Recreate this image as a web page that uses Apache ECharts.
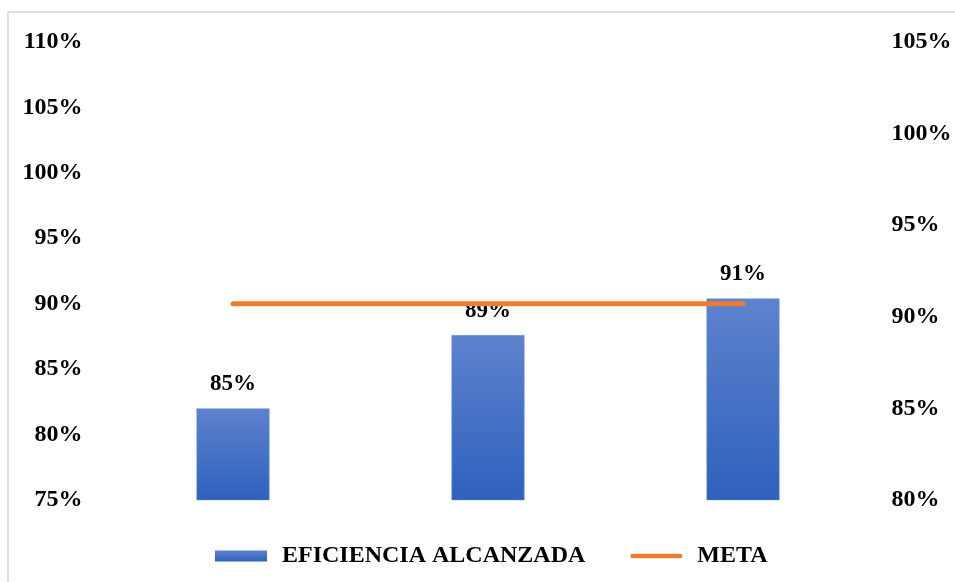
<!DOCTYPE html>
<html>
<head>
<meta charset="utf-8">
<script src="https://cdn.jsdelivr.net/npm/echarts@6/dist/echarts.min.js"></script>
<style>
html,body{margin:0;padding:0;background:#fff;}
#chart{width:955px;height:582px;}
</style>
</head>
<body>
<div id="chart"></div>
<script>
const categories = ['1', '2', '3'];
const eficiencia = [85, 89, 91];
const meta = [90, 90, 90];
const seriesNames = ['EFICIENCIA ALCANZADA', 'META'];

const FONT = "'Liberation Serif', 'Times New Roman', serif";
const chart = echarts.init(document.getElementById('chart'));
chart.setOption({
  animation: false,
  backgroundColor: '#ffffff',
  graphic: [{
    type: 'rect',
    shape: { x: 8, y: 12, width: 1000, height: 700 },
    style: { fill: 'none', stroke: '#dadfea', lineWidth: 2 },
    silent: true,
    z: -1
  }],
  grid: { left: 105.5, right: 84.5, top: 42, bottom: 82 },
  legend: {
    data: [
      { name: seriesNames[0], icon: 'rect', itemStyle: { borderWidth: 0 } },
      { name: seriesNames[1], icon: 'path://M2.5,0 H52.5 A2.5,2.5 0 0 1 52.5,5 H2.5 A2.5,2.5 0 0 1 2.5,0 Z', itemStyle: { color: '#ed7d31' } }
    ],
    left: 210,
    top: 539,
    itemWidth: 52,
    itemHeight: 11,
    itemGap: 45,
    textStyle: { fontFamily: FONT, fontWeight: 'bold', fontSize: 24, color: '#000', padding: [0, 0, 0, 10] }
  },
  xAxis: {
    type: 'category',
    data: categories,
    axisLine: { show: false },
    axisTick: { show: false },
    axisLabel: { show: false },
    splitLine: { show: false }
  },
  yAxis: [{
    type: 'value',
    min: 75, max: 110, interval: 5,
    position: 'left',
    axisLine: { show: false },
    axisTick: { show: false },
    splitLine: { show: false },
    axisLabel: {
      formatter: v => v + '%',
      margin: 23,
      fontFamily: FONT, fontWeight: 'bold', fontSize: 24, color: '#000'
    }
  }, {
    type: 'value',
    min: 80, max: 105, interval: 5,
    position: 'right',
    axisLine: { show: false },
    axisTick: { show: false },
    splitLine: { show: false },
    axisLabel: {
      formatter: v => v + '%',
      margin: 21,
      fontFamily: FONT, fontWeight: 'bold', fontSize: 24, color: '#000'
    }
  }],
  series: [{
    name: seriesNames[0],
    type: 'bar',
    yAxisIndex: 1,
    data: eficiencia,
    barWidth: 73,
    itemStyle: {
      color: {
        type: 'linear', x: 0, y: 0, x2: 0, y2: 1,
        colorStops: [{ offset: 0, color: '#5e82cd' }, { offset: 1, color: '#2e61bd' }]
      },
      borderColor: '#7396d9',
      borderWidth: 0.5
    },
    label: {
      show: true,
      position: 'top',
      distance: 13,
      formatter: p => p.value + '%',
      fontFamily: FONT, fontWeight: 'bold', fontSize: 23, color: '#000'
    }
  }, {
    name: seriesNames[1],
    type: 'line',
    yAxisIndex: 0,
    data: meta,
    symbol: 'none',
    lineStyle: { color: '#ed7d31', width: 5, cap: 'round' },
    itemStyle: { color: '#ed7d31' },
    z: 3
  }]
});
</script>
</body>
</html>
